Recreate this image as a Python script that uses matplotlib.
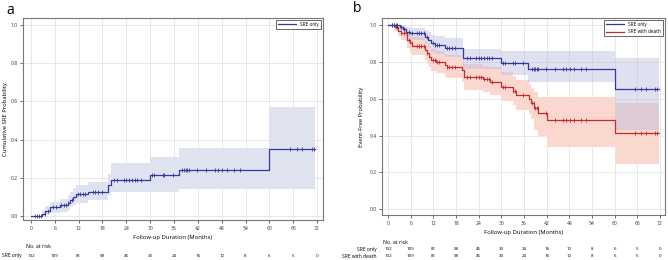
import numpy as np
import matplotlib
matplotlib.use("Agg")
import matplotlib.pyplot as plt
from matplotlib.transforms import blended_transform_factory

plt.rcParams['font.family'] = ['Open Sans', 'DejaVu Sans']

# ---- panel a: cumulative SRE probability (step curve + 95% CI) ----
a_months = [0, 2.8, 3.6, 4.9, 7.2, 9.2, 9.9, 10.6, 11.3, 14.3, 19.5, 20.2, 30.0, 37.2, 59.8]
a_cum = [0, 0.012, 0.025, 0.045, 0.055, 0.07, 0.085, 0.10, 0.114, 0.128, 0.16, 0.187, 0.215, 0.243, 0.351]
a_lo = [0, 0.0, 0.004, 0.015, 0.022, 0.033, 0.045, 0.058, 0.07, 0.082, 0.108, 0.125, 0.126, 0.14, 0.14]
a_hi = [0, 0.03, 0.05, 0.075, 0.09, 0.11, 0.125, 0.145, 0.16, 0.178, 0.22, 0.278, 0.31, 0.358, 0.57]

# ---- panel b: event-free probability ----
b_months = [0, 3.1, 4.0, 4.7, 5.7, 9.7, 10.6, 11.5, 12.4, 15.0, 19.9, 30.0, 37.1, 60.0]
b_sre = [1.0, 0.99, 0.976, 0.964, 0.955, 0.937, 0.919, 0.90, 0.89, 0.877, 0.819, 0.796, 0.76, 0.653]
b_sre_lo = [1.0, 0.97, 0.95, 0.935, 0.92, 0.895, 0.875, 0.855, 0.84, 0.825, 0.76, 0.73, 0.69, 0.43]
b_sre_hi = [1.0, 1.0, 1.0, 0.99, 0.985, 0.975, 0.96, 0.945, 0.94, 0.93, 0.87, 0.86, 0.86, 0.82]

r_months = [0, 1.8, 2.6, 3.5, 4.9, 5.7, 6.4, 9.7, 10.2, 10.9, 11.5, 12.8, 15.0, 15.5, 19.7, 20.0,
            25.0, 27.0, 30.0, 33.0, 33.8, 37.3, 37.8, 38.6, 39.8, 42.0, 60.0]
r_death = [1.0, 0.99, 0.97, 0.955, 0.92, 0.90, 0.886, 0.864, 0.846, 0.828, 0.81, 0.80, 0.783, 0.774,
           0.756, 0.72, 0.707, 0.693, 0.666, 0.644, 0.62, 0.597, 0.575, 0.548, 0.52, 0.485, 0.412]
r_death_lo = [1.0, 0.97, 0.94, 0.92, 0.875, 0.85, 0.835, 0.81, 0.79, 0.77, 0.75, 0.74, 0.72, 0.71,
              0.69, 0.65, 0.635, 0.62, 0.59, 0.565, 0.54, 0.515, 0.49, 0.43, 0.40, 0.34, 0.245]
r_death_hi = [1.0, 1.0, 0.995, 0.985, 0.96, 0.945, 0.935, 0.915, 0.9, 0.885, 0.87, 0.86, 0.845, 0.838,
              0.82, 0.79, 0.78, 0.77, 0.745, 0.725, 0.70, 0.68, 0.66, 0.635, 0.61, 0.61, 0.575]

censor_months = [1.0, 1.5, 2.0, 2.5, 3.5, 4.2, 5.5, 6.3, 7.6, 8.2, 8.8, 9.4, 10.4, 11.8, 12.4, 13.0,
                 13.6, 15.5, 16.2, 17.0, 17.8, 20.8, 21.6, 23.4, 24.0, 24.7, 25.4, 26.1, 26.8, 27.6,
                 30.5, 31.0, 33.2, 33.6, 35.7, 38.0, 38.5, 38.9, 39.3, 39.7, 41.9, 44.1, 46.4, 47.2,
                 48.1, 49.3, 51.0, 52.5, 65.3, 66.9, 68.2, 70.7, 71.2]
end_month = 71.6

risk_ticks = [0, 6, 12, 18, 24, 30, 36, 42, 48, 54, 60, 66, 72]
risk_sre = [132, 109, 81, 58, 45, 33, 24, 16, 12, 8, 6, 5, 0]
risk_death = [132, 109, 81, 58, 45, 33, 24, 16, 12, 8, 6, 5, 0]

BLUE = "#35389a"
RED = "#c42a2f"
BLUE_BAND = "#dfe2ef"
RED_BAND = "#fad8cf"
W, H = 668, 260


def ax_px(fig, left, top, right, bottom):
    return fig.add_axes([left / W, 1 - bottom / H, (right - left) / W, (bottom - top) / H])


def step_curve(ax, t, y, lo, hi, color, band, label, band_alpha=1.0):
    tt = list(t) + [end_month]
    ax.fill_between(tt, list(lo) + [lo[-1]], list(hi) + [hi[-1]], step="post",
                    color=band, alpha=band_alpha, lw=0, zorder=1)
    ax.step(tt, list(y) + [y[-1]], where="post", color=color, lw=0.9, label=label, zorder=3)
    idx = np.searchsorted(t, censor_months, side="right") - 1
    ax.plot(censor_months, np.array(y)[idx], ls="none", marker="|", ms=3.2, mew=0.6,
            color=color, zorder=4)


def style(ax, xlim):
    ax.set_xlim(xlim[0], xlim[1])
    ax.set_xticks(risk_ticks)
    ax.set_yticks([0, 0.2, 0.4, 0.6, 0.8, 1.0])
    ax.set_yticklabels(["0.0", "0.2", "0.4", "0.6", "0.8", "1.0"])
    ax.grid(color="#e4e4e4", lw=0.6, zorder=0)
    ax.set_axisbelow(True)
    ax.tick_params(labelsize=3.6, length=2, width=0.5, pad=2, colors="#333333")
    for s in ax.spines.values():
        s.set_color("#777777")
        s.set_linewidth(0.8)


fig = plt.figure(figsize=(W / 100, H / 100), dpi=100)

# panel a
ax1 = ax_px(fig, 23, 18, 323, 220)
step_curve(ax1, a_months, a_cum, a_lo, a_hi, BLUE, BLUE_BAND, "SRE only")
style(ax1, (-2.0, 73.5))
ax1.set_ylim(-0.021, 1.037)
ax1.set_xlabel("Follow-up Duration (Months)", fontsize=4.2, labelpad=3)
ax1.set_ylabel("Cumulative SRE Probability", fontsize=4.2, labelpad=2)
leg = ax1.legend(loc="upper right", fontsize=3.4, frameon=True, fancybox=False,
                 edgecolor="#222222", handlelength=4, borderpad=0.35, borderaxespad=0.5)
leg.get_frame().set_linewidth(0.6)
fig.text(10 / W, 1 - 10 / H, "a", fontsize=10, ha="center", va="center")

tr1 = blended_transform_factory(ax1.transData, fig.transFigure)
fig.text(26 / W, 1 - 247 / H, "No. at risk", fontsize=3.8, va="center")
fig.text(2 / W, 1 - 256 / H, "SRE only", fontsize=3.6, va="center")
for x, n in zip(risk_ticks, risk_sre):
    ax1.text(x, 1 - 256 / H, str(n), transform=tr1, fontsize=3.2, ha="center", va="center")

# panel b
ax2 = ax_px(fig, 382, 18, 665, 215)
step_curve(ax2, r_months, r_death, r_death_lo, r_death_hi, RED, RED_BAND, "SRE with death")
step_curve(ax2, b_months, b_sre, b_sre_lo, b_sre_hi, BLUE, "#b9bde0", "SRE only", band_alpha=0.45)
style(ax2, (-1.6, 73.3))
ax2.set_ylim(-0.031, 1.038)
ax2.set_xlabel("Follow-up Duration (Months)", fontsize=4.2, labelpad=3)
ax2.set_ylabel("Event-Free Probability", fontsize=4.2, labelpad=4)
h, l = ax2.get_legend_handles_labels()
leg2 = ax2.legend(h[::-1], l[::-1], loc="upper right", fontsize=3.4, frameon=True, fancybox=False,
                  edgecolor="#222222", handlelength=4, borderpad=0.35, borderaxespad=0.5)
leg2.get_frame().set_linewidth(0.6)
fig.text(357 / W, 1 - 9 / H, "b", fontsize=10, ha="center", va="center")

tr2 = blended_transform_factory(ax2.transData, fig.transFigure)
fig.text(383 / W, 1 - 242 / H, "No. at risk", fontsize=3.8, va="center")
fig.text(377 / W, 1 - 249 / H, "SRE only", fontsize=3.6, va="center", ha="right")
fig.text(377 / W, 1 - 256 / H, "SRE with death", fontsize=3.6, va="center", ha="right")
for x, n1, n2 in zip(risk_ticks, risk_sre, risk_death):
    ax2.text(x, 1 - 249 / H, str(n1), transform=tr2, fontsize=3.2, ha="center", va="center")
    ax2.text(x, 1 - 256 / H, str(n2), transform=tr2, fontsize=3.2, ha="center", va="center")

fig.savefig("out.png", dpi=100)
